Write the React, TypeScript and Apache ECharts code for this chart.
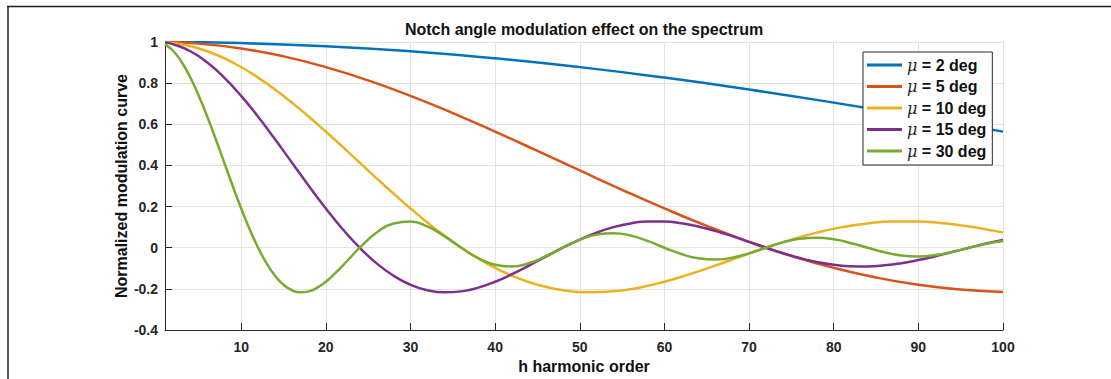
import React, { useEffect, useRef } from "react";
import * as echarts from "echarts";

// Harmonic orders (h) and normalized modulation values for each notch angle.
const h2 = [1, 10, 20, 30, 40, 50, 60, 70, 80, 90, 100];
const mu2 = [1.0, 0.99493, 0.97982, 0.95493, 0.92073, 0.87783, 0.82699, 0.76915, 0.70532, 0.63662, 0.56425];

const h5 = [1, 5, 10, 15, 20, 25, 30, 35, 40, 45, 50, 55, 60, 65, 70, 75, 80, 85, 90, 95, 100];
const mu5 = [0.99968, 0.99209, 0.96858, 0.93011, 0.87783, 0.81316, 0.73791, 0.65418, 0.56425, 0.47053, 0.37547, 0.28151, 0.19099, 0.10603, 0.02854, -0.03989, -0.09798, -0.14487, -0.18006, -0.20346, -0.21536];

const h10 = [1, 3, 6, 9, 12, 15, 18, 21, 24, 27, 30, 33, 36, 39, 42, 45, 48, 51, 54, 57, 60, 63, 66, 69, 72, 75, 78, 81, 84, 87, 90, 93, 96, 99, 100];
const mu10 = [0.99873, 0.98862, 0.95493, 0.90032, 0.82699, 0.73791, 0.63662, 0.52708, 0.4135, 0.30011, 0.19099, 0.08987, 0, -0.07605, -0.13642, -0.18006, -0.20675, -0.21703, -0.21221, -0.19419, -0.1654, -0.12862, -0.08681, -0.04298, 0, 0.03955, 0.07346, 0.10003, 0.11814, 0.12723, 0.12732, 0.11902, 0.10338, 0.08185, 0.07366];

const h15 = [1, 2, 4, 6, 8, 10, 12, 14, 16, 18, 20, 22, 24, 26, 28, 30, 32, 34, 36, 38, 40, 42, 44, 46, 48, 50, 52, 54, 56, 58, 60, 62, 64, 66, 68, 70, 72, 74, 76, 78, 80, 82, 84, 86, 88, 90, 92, 94, 96, 98, 100];
const mu15 = [0.99715, 0.98862, 0.95493, 0.90032, 0.82699, 0.73791, 0.63662, 0.52708, 0.4135, 0.30011, 0.19099, 0.08987, 0, -0.07605, -0.13642, -0.18006, -0.20675, -0.21703, -0.21221, -0.19419, -0.1654, -0.12862, -0.08681, -0.04298, 0, 0.03955, 0.07346, 0.10003, 0.11814, 0.12723, 0.12732, 0.11902, 0.10338, 0.08185, 0.05617, 0.02825, 0, -0.02672, -0.05026, -0.06926, -0.0827, -0.08999, -0.09095, -0.0858, -0.07518, -0.06002, -0.04152, -0.02103, 0, 0.02018, 0.0382];

const h30 = [1, 2, 3, 4, 5, 6, 7, 8, 9, 10, 11, 12, 13, 14, 15, 16, 17, 18, 19, 20, 21, 22, 23, 24, 26, 28, 30, 32, 34, 36, 38, 40, 42, 44, 46, 48, 50, 52, 54, 56, 58, 60, 62, 64, 66, 68, 70, 72, 74, 76, 78, 80, 82, 84, 86, 88, 90, 92, 94, 96, 98, 100];
const mu30 = [0.98862, 0.95493, 0.90032, 0.82699, 0.73791, 0.63662, 0.52708, 0.4135, 0.30011, 0.19099, 0.08987, 0, -0.07605, -0.13642, -0.18006, -0.20675, -0.21703, -0.21221, -0.19419, -0.1654, -0.12862, -0.08681, -0.04298, 0, 0.07346, 0.11814, 0.12732, 0.10338, 0.05617, 0, -0.05026, -0.0827, -0.09095, -0.07518, -0.04152, 0, 0.0382, 0.06362, 0.07074, 0.05907, 0.03293, 0, -0.0308, -0.05169, -0.05787, -0.04865, -0.02728, 0, 0.02581, 0.04353, 0.04897, 0.04135, 0.02329, 0, -0.02221, -0.03759, -0.04244, -0.03596, -0.02032, 0, 0.01949, 0.03308];

const seriesNames = ["μ = 2 deg", "μ = 5 deg", "μ = 10 deg", "μ = 15 deg", "μ = 30 deg"];
const seriesX = [h2, h5, h10, h15, h30];
const seriesY = [mu2, mu5, mu10, mu15, mu30];
const colors = ["#0072BD", "#D95319", "#EDB120", "#7E2F8E", "#77AC30"];

const xTicks = [10, 20, 30, 40, 50, 60, 70, 80, 90, 100];

const titleText = "Notch angle modulation effect on the spectrum";
const xName = "h harmonic order";
const yName = "Normalized modulation curve";

const FONT = "'Liberation Sans', Arial, Helvetica, sans-serif";
const INK = "#262626";

export default function App() {
  const ref = useRef<HTMLDivElement>(null);

  useEffect(() => {
    if (!ref.current) return;
    const chart = echarts.init(ref.current, undefined, { renderer: "svg" });

    const series = seriesNames.map((name, i) => ({
      name,
      type: "line",
      smooth: true,
      showSymbol: false,
      symbol: "none",
      lineStyle: { width: 2.5, color: colors[i] },
      itemStyle: { color: colors[i] },
      data: seriesX[i].map((x, j) => [x, seriesY[i][j]]),
    }));

    chart.setOption({
      animation: false,
      backgroundColor: "#ffffff",
      textStyle: { fontFamily: FONT },
      grid: { left: 165, right: 108, top: 42, bottom: 48, containLabel: false },
      graphic: [
        {
          type: "line",
          shape: { x1: 7, y1: 6.5, x2: 1111, y2: 6.5 },
          style: { stroke: "#1f1f1f", lineWidth: 1.5 },
        },
        {
          type: "line",
          shape: { x1: 8, y1: 6, x2: 8, y2: 379 },
          style: { stroke: "#1f1f1f", lineWidth: 1.5 },
        },
        {
          type: "text",
          x: 584,
          y: 29,
          style: {
            text: titleText,
            font: `bold 16px ${FONT}`,
            fill: "#111111",
            textAlign: "center",
            textVerticalAlign: "middle",
          },
        },
      ],
      legend: {
        orient: "vertical",
        left: 863,
        top: 52,
        backgroundColor: "#ffffff",
        borderColor: INK,
        borderWidth: 1,
        padding: [5, 6, 6, 4],
        itemGap: 5.5,
        itemWidth: 35,
        itemHeight: 3,
        icon: "rect",
        data: seriesNames,
        formatter: (name: string) => `{mu|μ}{b|${name.slice(1)}}`,
        textStyle: {
          rich: {
            mu: {
              fontFamily: "'DejaVu Serif', 'Liberation Serif', serif",
              fontStyle: "italic",
              fontSize: 16,
              color: INK,
              lineHeight: 19,
            },
            b: {
              fontFamily: FONT,
              fontWeight: "bold",
              fontSize: 16,
              color: "#111111",
              lineHeight: 19,
            },
          },
        },
      },
      xAxis: {
        type: "value",
        min: 1,
        max: 100,
        name: xName,
        nameLocation: "middle",
        nameGap: 28,
        nameMoveOverlap: false,
        nameTextStyle: { fontFamily: FONT, fontWeight: "bold", fontSize: 16, color: "#111111" },
        axisLine: { show: true, onZero: false, lineStyle: { color: INK, width: 1 } },
        axisTick: { show: true, inside: true, length: 7, customValues: xTicks, lineStyle: { color: INK } },
        axisLabel: { customValues: xTicks, fontFamily: FONT, fontWeight: "bold", fontSize: 14, color: INK, margin: 10 },
        splitLine: { show: true, lineStyle: { color: "#e3e3e3", width: 1 } },
      },
      yAxis: {
        type: "value",
        min: -0.4,
        max: 1,
        interval: 0.2,
        name: yName,
        nameLocation: "middle",
        nameRotate: 90,
        nameGap: 36,
        nameMoveOverlap: false,
        nameTextStyle: { fontFamily: FONT, fontWeight: "bold", fontSize: 16, color: "#111111" },
        axisLine: { show: true, onZero: false, lineStyle: { color: INK, width: 1 } },
        axisTick: { show: true, inside: true, length: 7, lineStyle: { color: INK } },
        axisLabel: {
          fontFamily: FONT,
          fontWeight: "bold",
          fontSize: 14,
          color: INK,
          margin: 7,
          formatter: (v: number) => String(Math.round(v * 10) / 10),
        },
        splitLine: { show: true, lineStyle: { color: "#e3e3e3", width: 1 } },
      },
      series,
    });

    return () => chart.dispose();
  }, []);

  return (
    <div
      ref={ref}
      style={{ position: "fixed", left: 0, top: 0, width: 1111, height: 379, background: "#fff" }}
    />
  );
}
